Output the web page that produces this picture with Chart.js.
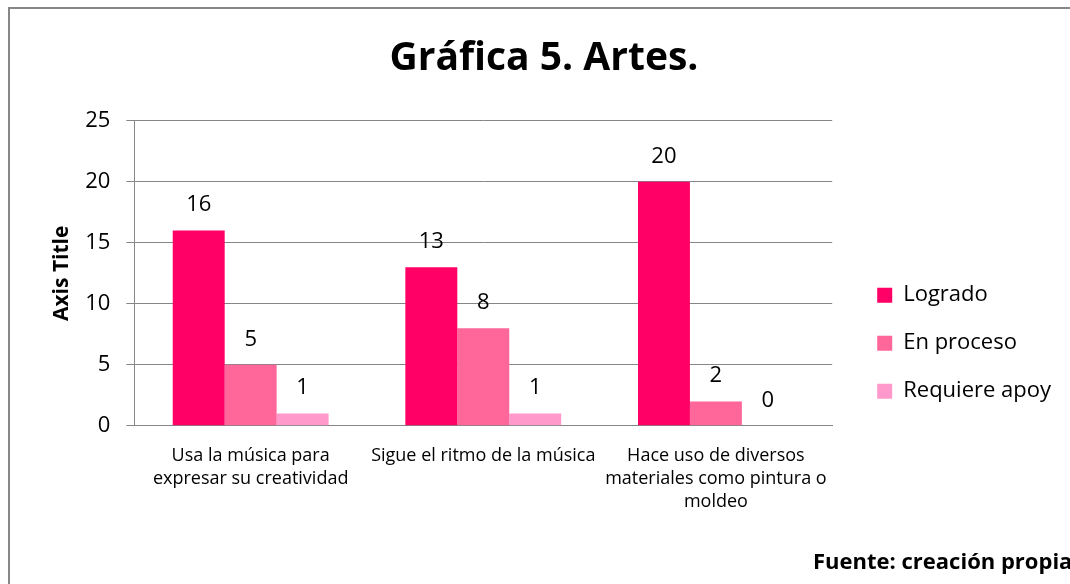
<!DOCTYPE html>
<html lang="es">
  <head>
    <meta charset="UTF-8" />
    <title>Gráfica 5. Artes.</title>
    <script src="https://cdn.jsdelivr.net/npm/chart.js"></script>
    <style>
      html,
      body {
        margin: 0;
        padding: 0;
        background: #ffffff;
        overflow: hidden;
      }

      .frame {
        position: absolute;
        left: 8px;
        top: 7px;
        width: 1100px;
        height: 620px;
        border: 2px solid #878787;
      }

      .chart {
        position: absolute;
        left: 0;
        top: 0;
        width: 1070px;
        height: 584px;
      }
    </style>
  </head>
  <body>
    <div class="frame"></div>
    <div class="chart">
      <canvas id="artesChart"></canvas>
    </div>
    <script>
      const categories = [
        ["Usa la música para", "expresar su creatividad"],
        "Sigue el ritmo de la música",
        ["Hace uso de diversos", "materiales como pintura o", "moldeo"],
      ];
      const logrado = [16, 13, 20];
      const enProceso = [5, 8, 2];
      const requiereApoyo = [1, 1, 0];
      const seriesNames = ["Logrado", "En proceso", "Requiere apoy"];
      const yTicks = [0, 5, 10, 15, 20, 25];

      const FONT = "'Open Sans', sans-serif";
      const GRAY = "#868686";

      // numbers over each bar
      const valueLabels = {
        id: "valueLabels",
        afterDatasetsDraw(chart) {
          const ctx = chart.ctx;
          ctx.save();
          ctx.font = "22px " + FONT;
          ctx.fillStyle = "#000000";
          ctx.textAlign = "center";
          ctx.textBaseline = "middle";
          chart.data.datasets.forEach((ds, i) => {
            const meta = chart.getDatasetMeta(i);
            meta.data.forEach((bar, j) => {
              ctx.fillText(String(ds.data[j]), bar.x, bar.y - 25.5);
            });
          });
          ctx.restore();
        },
      };

      // source note, bottom right (cut by the edge like the original)
      const sourceNote = {
        id: "sourceNote",
        afterDraw(chart) {
          const ctx = chart.ctx;
          ctx.save();
          ctx.font = "bold 22px " + FONT;
          ctx.fillStyle = "#000000";
          ctx.textAlign = "left";
          ctx.textBaseline = "middle";
          ctx.fillText("Fuente: creación propia", 813, 563);
          ctx.restore();
        },
      };

      new Chart(document.getElementById("artesChart"), {
        type: "bar",
        data: {
          labels: categories,
          datasets: [
            { label: seriesNames[0], data: logrado, backgroundColor: "#FF0066" },
            { label: seriesNames[1], data: enProceso, backgroundColor: "#FF6699" },
            { label: seriesNames[2], data: requiereApoyo, backgroundColor: "#FF99CC" },
          ],
        },
        options: {
          responsive: true,
          maintainAspectRatio: false,
          animation: false,
          datasets: {
            bar: { barPercentage: 1, categoryPercentage: 0.67 },
          },
          layout: {
            padding: { top: 20, left: 27, right: 9, bottom: 60 },
          },
          scales: {
            y: {
              min: 0,
              max: 25,
              afterBuildTicks(axis) {
                axis.ticks = yTicks.map((v) => ({ value: v }));
              },
              ticks: {
                color: "#000000",
                font: { family: FONT, size: 22 },
                padding: 16,
              },
              grid: { color: GRAY, lineWidth: 1, tickLength: 8 },
              border: { color: GRAY, width: 1 },
              title: {
                display: true,
                text: "Axis Title",
                color: "#000000",
                font: { family: FONT, size: 21, weight: "bold" },
                padding: { top: 22, bottom: -5 },
              },
            },
            // empty spacer so the legend sits a bit away from the plot
            gap: {
              position: "right",
              grid: { display: false },
              ticks: { display: false },
              border: { display: false },
              afterFit(axis) {
                axis.width = 19;
              },
            },
            x: {
              ticks: {
                color: "#000000",
                font: { family: FONT, size: 18, lineHeight: 1.3 },
                padding: 10,
                maxRotation: 0,
                autoSkip: false,
              },
              grid: { display: false },
              border: { color: GRAY, width: 1 },
            },
          },
          plugins: {
            title: {
              display: true,
              text: "Gráfica 5. Artes.",
              color: "#000000",
              font: { family: FONT, size: 39, weight: "bold" },
              padding: { top: 15, bottom: 39 },
            },
            legend: {
              position: "right",
              align: "center",
              maxWidth: 300,
              // empty title only pushes the items down
              title: {
                display: true,
                text: "",
                font: { family: FONT, size: 12 },
                padding: { top: 128, bottom: 0 },
              },
              labels: {
                color: "#000000",
                font: { family: FONT, size: 22 },
                boxWidth: 15,
                boxHeight: 15,
                padding: 26,
              },
            },
            tooltip: { enabled: false },
          },
        },
        plugins: [valueLabels, sourceNote],
      });
    </script>
  </body>
</html>
